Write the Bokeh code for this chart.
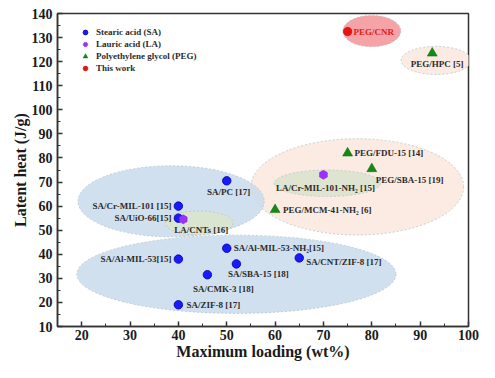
from bokeh.plotting import figure
from bokeh.models import ColumnDataSource, Legend, LegendItem, FixedTicker
from bokeh.core.properties import value
from bokeh.embed import file_html
from bokeh.resources import INLINE

# ---- data ----
sa_names = ["SA/PC [17]", "SA/Cr-MIL-101 [15]", "SA/UiO-66[15]", "SA/Al-MIL-53[15]",
            "SA/Al-MIL-53-NH₂[15]", "SA/SBA-15 [18]", "SA/CMK-3 [18]", "SA/ZIF-8 [17]",
            "SA/CNT/ZIF-8 [17]"]
sa_load = [50, 40, 40, 40, 50, 52, 46, 40, 65]
sa_heat = [70.5, 60, 55, 38, 42.5, 36, 31.5, 19, 38.5]

la_names = ["LA/CNTs [16]", "LA/Cr-MIL-101-NH₂ [15]"]
la_load = [41, 70]
la_heat = [54.5, 73]

peg_names = ["PEG/FDU-15 [14]", "PEG/SBA-15 [19]", "PEG/MCM-41-NH₂ [6]", "PEG/HPC [5]"]
peg_load = [75, 80, 60, 92.5]
peg_heat = [82, 75.5, 58.5, 123.5]

tw_names = ["PEG/CNR"]
tw_load = [75]
tw_heat = [132.5]

# grouping ellipses (center x, center y, width, height)
ell_x = [77, 93.3, 38.5, 52, 44.3, 70.8, 80]
ell_y = [68, 120.5, 62, 31.7, 53, 69.5, 132.7]
ell_w = [44, 14.5, 38.5, 66, 14, 22, 12]
ell_h = [40, 11.7, 29.5, 32.5, 10, 11, 13]

x_ticks = [20, 30, 40, 50, 60, 70, 80, 90, 100]
y_ticks = [10, 20, 30, 40, 50, 60, 70, 80, 90, 100, 110, 120, 130, 140]

# ---- styles ----
ell_fill = ["#fbebe2", "#fbebe2", "#c9daec", "#c9daec", "#d9e5cf", "#dde4d0", "#f5a3a6"]
ell_alpha = [1.0, 1.0, 0.85, 0.85, 0.95, 0.95, 1.0]

sa_dx = [2, -7, -7, -7, 7, 22, 16, 8, 7]
sa_dy = [11, 0, 0, 0, 0, 10, 14, 0, 4]
sa_align = ["center", "right", "right", "right", "left", "center", "center", "left", "left"]
la_dx = [18, 2]
la_dy = [11, 13]
la_align = ["center", "center"]
peg_dx = [7, 4, 8, 5]
peg_dy = [0, 11, 0, 11]
peg_align = ["left", "left", "left", "center"]
tw_dx = [6]
tw_dy = [0]
tw_align = ["left"]

FONT = "Liberation Serif"

p = figure(width=479, height=362, x_range=(15, 100), y_range=(10, 140),
           output_backend="svg", toolbar_location=None,
           min_border_left=57, min_border_right=11, min_border_top=13, min_border_bottom=36)
p.xgrid.visible = False
p.ygrid.visible = False
p.outline_line_color = "#333333"
p.outline_line_width = 1.5
p.background_fill_color = "white"

p.ellipse(x=ell_x, y=ell_y, width=ell_w, height=ell_h, fill_color=ell_fill,
          fill_alpha=ell_alpha, line_color="#b8c4cc", line_dash="2 2", line_width=0.8)

r_sa = p.scatter(sa_load, sa_heat, marker="circle", size=8.5, fill_color="#1a1aff",
                 line_color="#0000a0", line_width=0.8)
r_la = p.scatter(la_load, la_heat, marker="hex", size=9, fill_color="#9b30ff",
                 line_color="#7a1fd0", line_width=0.5, angle=0.5236)
r_peg = p.scatter(peg_load, peg_heat, marker="triangle", size=10, fill_color="#148a14",
                  line_color="#0e6e0e", line_width=0.5)
r_tw = p.scatter(tw_load, tw_heat, marker="circle", size=8.5, fill_color="#ee1111",
                 line_color="#b00000", line_width=0.5)

def add_labels(xs, ys, names, dx, dy, align, color):
    src = ColumnDataSource(dict(x=xs, y=ys, t=names, dx=dx, dy=dy, a=align))
    p.text(x="x", y="y", text="t", x_offset="dx", y_offset="dy", text_align="a",
           text_baseline="middle", text_font=value(FONT), text_font_style="bold",
           text_font_size="9px", text_color=color, source=src)

add_labels(sa_load, sa_heat, sa_names, sa_dx, sa_dy, sa_align, "#2b2b2b")
add_labels(la_load, la_heat, la_names, la_dx, la_dy, la_align, "#2b2b2b")
add_labels(peg_load, peg_heat, peg_names, peg_dx, peg_dy, peg_align, "#2b2b2b")
add_labels(tw_load, tw_heat, tw_names, tw_dx, tw_dy, tw_align, "#e02020")

legend = Legend(items=[
    LegendItem(label="Stearic acid (SA)", renderers=[r_sa]),
    LegendItem(label="Lauric acid (LA)", renderers=[r_la]),
    LegendItem(label="Polyethylene glycol (PEG)", renderers=[r_peg]),
    LegendItem(label="This work", renderers=[r_tw]),
], location=(21, 252))
legend.background_fill_alpha = 0
legend.border_line_alpha = 0
legend.padding = 0
legend.spacing = 0
legend.glyph_width = 14
legend.glyph_height = 12
legend.label_height = 12
legend.label_standoff = 4
legend.label_text_font = FONT
legend.label_text_font_style = "bold"
legend.label_text_font_size = "9px"
legend.label_text_color = "#2b2b2b"
legend.label_text_baseline = "middle"
p.add_layout(legend)

for ax in (p.xaxis, p.yaxis):
    ax.major_tick_in = 5
    ax.major_tick_out = 0
    ax.minor_tick_in = 3
    ax.minor_tick_out = 0
    ax.axis_line_width = 1.5
    ax.axis_line_color = "#333333"
    ax.major_tick_line_width = 1.5
    ax.major_tick_line_color = "#333333"
    ax.minor_tick_line_color = "#333333"
    ax.major_label_text_font = FONT
    ax.major_label_text_font_style = "bold"
    ax.major_label_text_font_size = "14px"
    ax.major_label_text_color = "#1a1a1a"
    ax.axis_label_text_font = FONT
    ax.axis_label_text_font_style = "bold"
    ax.axis_label_text_font_size = "16px"
    ax.axis_label_text_color = "#1a1a1a"

p.xaxis.ticker = FixedTicker(ticks=x_ticks, minor_ticks=[t + 5 for t in x_ticks[:-1]] + [15])
p.yaxis.ticker = FixedTicker(ticks=y_ticks, minor_ticks=[t + 5 for t in y_ticks[:-1]])
p.xaxis.axis_label = "Maximum loading (wt%)"
p.yaxis.axis_label = "Latent heat (J/g)"
p.xaxis.major_label_standoff = 3
p.xaxis.axis_label_standoff = 0
p.yaxis.major_label_standoff = 5
p.yaxis.axis_label_standoff = 0

open("out.html", "w").write(file_html(p, INLINE))
